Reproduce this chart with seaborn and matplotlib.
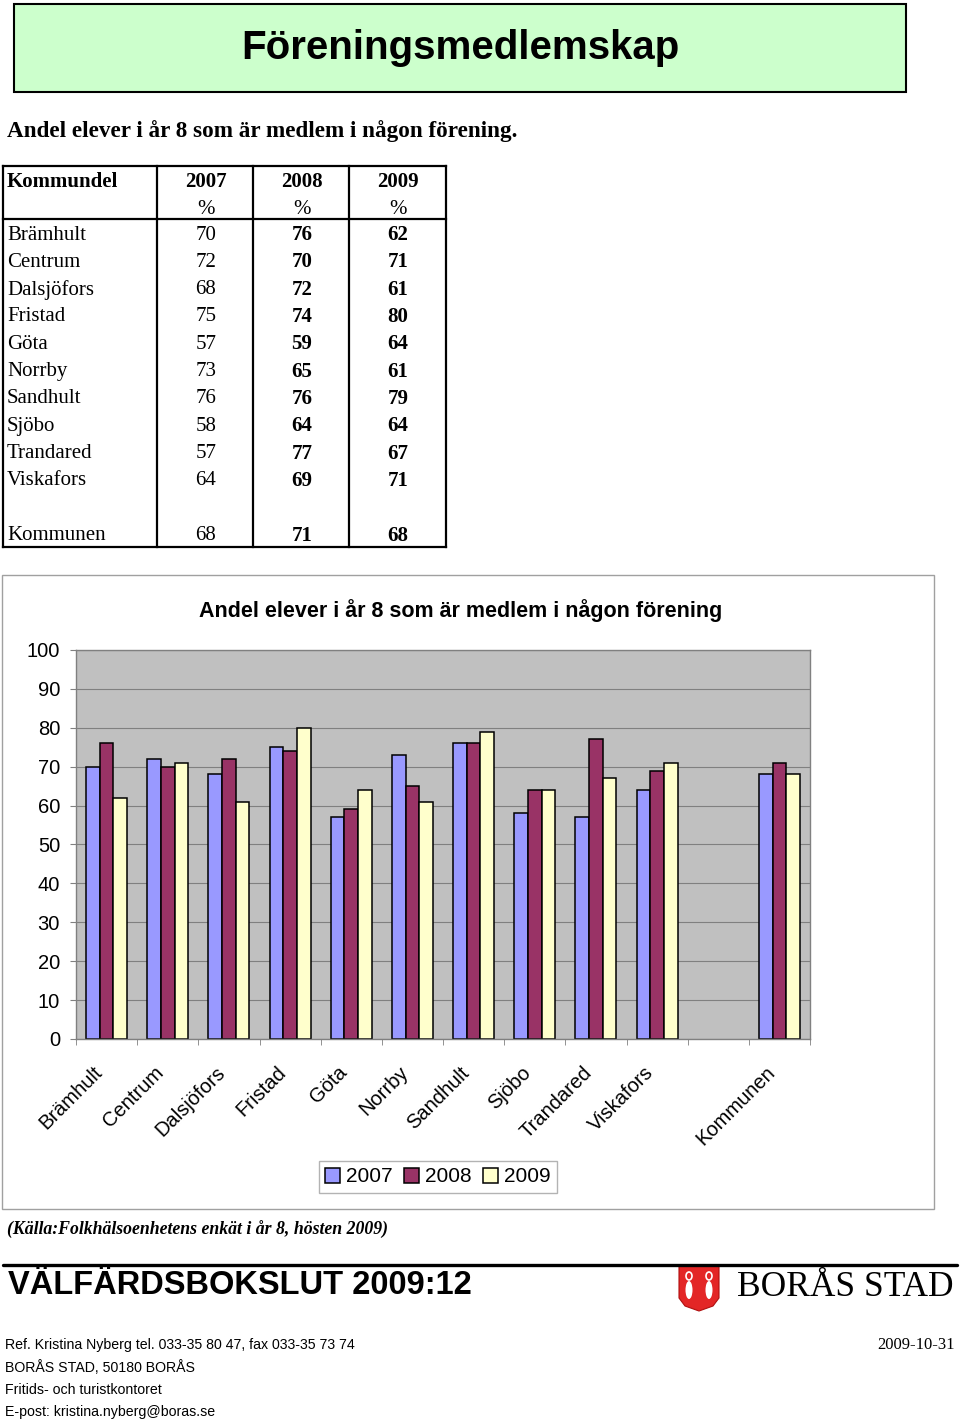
import numpy as np
import pandas as pd
import matplotlib
matplotlib.use("Agg")
import matplotlib.pyplot as plt
import seaborn as sns
from matplotlib import font_manager
from matplotlib.patches import Rectangle, Polygon, Ellipse
from matplotlib.transforms import ScaledTranslation

omraden = ["Brämhult", "Centrum", "Dalsjöfors", "Fristad", "Göta",
           "Norrby", "Sandhult", "Sjöbo", "Trandared", "Viskafors"]
ar = ["2007", "2008", "2009"]
ar2007 = [70, 72, 68, 75, 57, 73, 76, 58, 57, 64]
ar2008 = [76, 70, 72, 74, 59, 65, 76, 64, 77, 69]
ar2009 = [62, 71, 61, 80, 64, 61, 79, 64, 67, 71]
kommunen = [68, 71, 68]
farger = ["#9999FF", "#993366", "#FFFFCC"]

sns.set_style("white")
plt.rcParams["font.family"] = ["Liberation Sans", "DejaVu Sans"]
plt.rcParams["text.color"] = "black"
plt.rcParams["xtick.color"] = "black"
plt.rcParams["ytick.color"] = "black"

names = {f.name for f in font_manager.fontManager.ttflist}
narrow = "Liberation Sans Narrow" if "Liberation Sans Narrow" in names else None

W, H = 960, 1421
fig = plt.figure(figsize=(9.6, 14.21), dpi=100)

# page layer in pixel coordinates
bg = fig.add_axes([0, 0, 1, 1])
bg.set_xlim(0, W)
bg.set_ylim(H, 0)
bg.axis("off")
bg.set_zorder(0)

# title box
bg.add_patch(Rectangle((14, 4), 892, 88, facecolor="#CCFFCC", edgecolor="black", lw=1.5))
bg.text(460, 48, "Föreningsmedlemskap", ha="center", va="center",
        fontsize=29, fontweight="bold")
bg.text(7, 131, "Andel elever i år 8 som är medlem i någon förening.", ha="left", va="center",
        fontsize=16.7, fontweight="bold", family="Liberation Serif")

# table
serif = "Liberation Serif"
cols_x = [3, 157, 253, 349, 446]
top, head_bot, bot = 166, 219, 547
lw_t = 1.6
for x in cols_x:
    bg.plot([x, x], [top, bot], color="black", lw=lw_t, solid_capstyle="projecting")
for y in [top, head_bot, bot]:
    bg.plot([cols_x[0], cols_x[-1]], [y, y], color="black", lw=lw_t, solid_capstyle="projecting")
centers = [206, 302, 398]
bg.text(7, 182, "Kommundel", ha="left", va="center", fontsize=15, fontweight="bold", family=serif)
for cx, a in zip(centers, ar):
    bg.text(cx, 182, a, ha="center", va="center", fontsize=15, fontweight="bold", family=serif)
    bg.text(cx, 209, "%", ha="center", va="center", fontsize=15, family=serif)
step = 27.33
rows = [(n, (a, b, c)) for n, a, b, c in zip(omraden, ar2007, ar2008, ar2009)]
all_rows = rows + [None, ("Kommunen", tuple(kommunen))]
for i, r in enumerate(all_rows):
    if r is None:
        continue
    y = 235 + i * step
    n, vals = r
    bg.text(7, y, n, ha="left", va="center", fontsize=15, family=serif)
    for j, (cx, v) in enumerate(zip(centers, vals)):
        bg.text(cx, y, str(v), ha="center", va="center", fontsize=15, family=serif,
                fontweight="normal" if j == 0 else "bold")

# chart frame
bg.add_patch(Rectangle((2, 575), 932, 634, facecolor="white", edgecolor="#A0A0A0", lw=1))
bg.text(461, 611, "Andel elever i år 8 som är medlem i någon förening", ha="center", va="center",
        fontsize=15.5, fontweight="bold")

# chart data
order = omraden + [" ", "Kommunen"]
df = pd.DataFrame({
    "Kommundel": omraden * 3 + ["Kommunen"] * 3,
    "År": [a for a in ar for _ in omraden] + ar,
    "Procent": ar2007 + ar2008 + ar2009 + kommunen,
})

ax = fig.add_axes([76 / W, 1 - 1039 / H, 734 / W, 389 / H])
ax.set_zorder(2)
sns.barplot(data=df, x="Kommundel", y="Procent", hue="År", order=order, hue_order=ar,
            palette=farger, saturation=1, width=0.67, errorbar=None,
            edgecolor="black", linewidth=1.1, ax=ax)
ax.set_facecolor("#C0C0C0")
ax.set_xlim(-0.5, 11.5)
ax.set_ylim(0, 100)
ax.set_yticks(range(0, 101, 10))
ax.yaxis.grid(True, color="#808080", lw=0.8)
ax.xaxis.grid(False)
ax.set_axisbelow(True)
for s in ax.spines.values():
    s.set_visible(True)
    s.set_color("#808080")
    s.set_linewidth(1)
ax.set_xlabel("")
ax.set_ylabel("")
ax.tick_params(axis="y", length=4.5, color="#808080", labelcolor="black", pad=7,
               labelsize=14.5, left=True)
ax.set_xticks(range(len(order)))
ax.set_xticklabels(order)
ax.set_xticks(np.arange(-0.5, len(order), 1), minor=True)
ax.tick_params(axis="x", which="major", length=0, pad=22, labelsize=14.5, labelcolor="black")
ax.tick_params(axis="x", which="minor", length=4, color="#808080", bottom=True)
shift = ScaledTranslation(-7 / 100, 0, fig.dpi_scale_trans)
for t in ax.get_xticklabels():
    t.set_rotation(45)
    t.set_ha("right")
    t.set_va("center")
    t.set_rotation_mode("anchor")
    t.set_transform(t.get_transform() + shift)

handles, labels = ax.get_legend_handles_labels()
if ax.get_legend() is not None:
    ax.get_legend().remove()
leg = fig.legend(handles, labels, loc="center", bbox_to_anchor=(438 / W, 1 - 1177 / H), ncol=3,
                 frameon=True, fancybox=False, edgecolor="#A0A0A0", fontsize=15,
                 handlelength=0.7, handleheight=0.7, handletextpad=0.3, columnspacing=0.55,
                 borderpad=0.3, borderaxespad=0)
leg.get_frame().set_linewidth(1)
leg.set_zorder(3)

bg.text(7, 1230, "(Källa:Folkhälsoenhetens enkät i år 8, hösten 2009)", ha="left", va="center",
        fontsize=12.8, fontweight="bold", fontstyle="italic", family=serif)

# footer
bg.plot([3, 957], [1265, 1265], color="black", lw=2.4)
if narrow:
    bg.text(8, 1286, "VÄLFÄRDSBOKSLUT 2009:12", ha="left", va="center",
            fontsize=27, fontweight="bold", family=narrow)
else:
    bg.text(8, 1286, "VÄLFÄRDSBOKSLUT 2009:12", ha="left", va="center",
            fontsize=23.5, fontweight="bold")

# city shield
shield = Polygon([(679, 1266), (719, 1266), (719, 1298), (713, 1306), (699, 1311),
                  (685, 1306), (679, 1298)], closed=True, facecolor="#E32626", edgecolor="#B01010", lw=0.8)
bg.add_patch(shield)
for ex in [689, 709]:
    bg.add_patch(Ellipse((ex, 1290), 7, 18, facecolor="white", edgecolor="none"))
    bg.add_patch(Ellipse((ex, 1276), 6, 8, facecolor="none", edgecolor="white", lw=1.2))
bg.text(845, 1288, "BORÅS STAD", ha="center", va="center", fontsize=25.5, family=serif)

foot = ["Ref. Kristina Nyberg tel. 033-35 80 47, fax 033-35 73 74",
        "BORÅS STAD, 50180 BORÅS",
        "Fritids- och turistkontoret",
        "E-post: kristina.nyberg@boras.se"]
for i, line in enumerate(foot):
    bg.text(5, 1345 + i * 22.3, line, ha="left", va="center", fontsize=10.2)
bg.text(955, 1345, "2009-10-31", ha="right", va="center", fontsize=12, family=serif)

fig.savefig("out.png", dpi=100)
